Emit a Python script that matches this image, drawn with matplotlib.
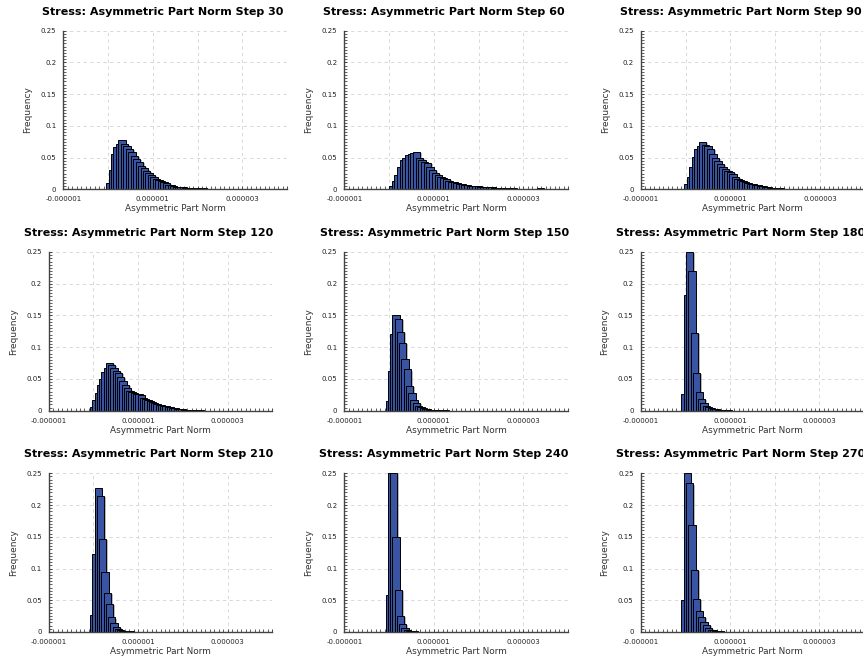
import matplotlib
matplotlib.use("Agg")
import matplotlib.pyplot as plt
import matplotlib.patheffects as pe
from matplotlib.ticker import MultipleLocator, FuncFormatter

# ── Données : histogrammes de la norme de la partie asymétrique ──────────────
STEPS = [30, 60, 90, 120, 150, 180, 210, 240, 270]

# bord gauche du premier bin et pas des bins (unités de 1e-6)
BIN_START = [-0.043, -0.003, -0.035, -0.077, -0.077, -0.092, -0.077, -0.077, -0.092]
BIN_STEP = [0.055, 0.060, 0.056, 0.0506, 0.0506, 0.0536, 0.0506, 0.0506, 0.0536]

FREQ_30 = [0.0105, 0.030, 0.055, 0.067, 0.072, 0.078, 0.071, 0.069, 0.064, 0.059,
           0.053, 0.048, 0.043, 0.037, 0.033, 0.029, 0.026, 0.023, 0.020, 0.017,
           0.015, 0.013, 0.011, 0.0095, 0.0075, 0.0062, 0.0052, 0.0045, 0.004, 0.0036,
           0.0032, 0.0029, 0.0026, 0.0023, 0.0021, 0.0019, 0.0017, 0.0016, 0.0015, 0.0013,
           0.0011, 0.001, 0.0009, 0.0008, 0.0007, 0.0006, 0.0005, 0.0004, 0.0003]
FREQ_60 = [0.005, 0.0136, 0.023, 0.0345, 0.046, 0.050, 0.054, 0.055, 0.0575, 0.059,
           0.049, 0.046, 0.043, 0.041, 0.036, 0.031, 0.026, 0.023, 0.020, 0.018,
           0.016, 0.0136, 0.012, 0.011, 0.010, 0.0092, 0.0082, 0.0075, 0.0068, 0.0060,
           0.0055, 0.0050, 0.0046, 0.0043, 0.0040, 0.0037, 0.0034, 0.0031, 0.0029, 0.0027,
           0.0025, 0.0023, 0.0021, 0.0018, 0.0016, 0.0015, 0.0013, 0.0012, 0.0011, 0.0010,
           0.0009, 0.0009, 0.0008, 0.0009, 0.0012, 0.0015, 0.0010, 0.0007, 0.0005, 0.0004,
           0.0004, 0.0003, 0.0003, 0.0003, 0.0003, 0.0003, 0.0003]
FREQ_90 = [0.009, 0.019, 0.035, 0.051, 0.064, 0.069, 0.0746, 0.070, 0.068, 0.064,
           0.056, 0.050, 0.045, 0.040, 0.036, 0.032, 0.0297, 0.027, 0.0245, 0.020,
           0.017, 0.015, 0.013, 0.0115, 0.010, 0.0089, 0.0078, 0.0068, 0.0062, 0.0053,
           0.0046, 0.0038, 0.0032, 0.0027, 0.0023, 0.0020, 0.0017, 0.0015, 0.0013, 0.0012,
           0.0011, 0.0010, 0.0009, 0.0008, 0.0008, 0.0007, 0.0006, 0.0006, 0.0008, 0.0009,
           0.0004]
FREQ_120 = [0.0063, 0.0168, 0.0273, 0.040, 0.050, 0.061, 0.0667, 0.0756, 0.072, 0.0667,
            0.063, 0.059, 0.053, 0.046, 0.040, 0.035, 0.0315, 0.029, 0.028, 0.027,
            0.0265, 0.025, 0.020, 0.018, 0.0165, 0.015, 0.0138, 0.0125, 0.0112, 0.0095,
            0.0085, 0.0078, 0.0070, 0.0060, 0.0052, 0.0045, 0.0037, 0.0031, 0.0025, 0.0021,
            0.0017, 0.0013, 0.0010, 0.0008, 0.0007, 0.0006, 0.0005, 0.0004, 0.0003, 0.0003,
            0.0002, 0.0002]
FREQ_150 = [0.0158, 0.0625, 0.121, 0.1507, 0.1439, 0.124, 0.1066, 0.081, 0.065, 0.039,
            0.0273, 0.0168, 0.0116, 0.0079, 0.0053, 0.0037, 0.0026, 0.0020, 0.0016, 0.0012,
            0.0010, 0.0008, 0.0007, 0.0006, 0.0005, 0.0004, 0.0003, 0.0003, 0.0002]
FREQ_180 = [0.026, 0.1815, 0.25, 0.2207, 0.1224, 0.060, 0.029, 0.0183, 0.0115, 0.0078,
            0.0052, 0.0037, 0.0027, 0.0020, 0.0015, 0.0011, 0.0008, 0.0006, 0.0004, 0.0003,
            0.0002]
FREQ_210 = [0.0268, 0.1229, 0.2274, 0.2143, 0.147, 0.095, 0.062, 0.044, 0.023, 0.0137,
            0.0074, 0.0047, 0.0032, 0.0022, 0.0016, 0.0012, 0.0009, 0.0006, 0.0004, 0.0003]
FREQ_240 = [0.059, 0.25, 0.25, 0.149, 0.0656, 0.025, 0.012, 0.0058, 0.0032, 0.0020,
            0.0013, 0.0009, 0.0006, 0.0004, 0.0003, 0.0002]
FREQ_270 = [0.0504, 0.25, 0.234, 0.1686, 0.0977, 0.0515, 0.033, 0.024, 0.0163, 0.011,
            0.0058, 0.0037, 0.0026, 0.0018, 0.0013, 0.0009, 0.0007, 0.0005, 0.0004, 0.0003]

FREQS = [FREQ_30, FREQ_60, FREQ_90, FREQ_120, FREQ_150,
         FREQ_180, FREQ_210, FREQ_240, FREQ_270]

X_LABELS = {-1e-6: "-0.000001", 1e-6: "0.000001", 3e-6: "0.000003"}

# ── Mise en page (pixels) ────────────────────────────────────────────────────
W, H, DPI = 863, 660, 100
AX_LEFT = [[63.3, 344.3, 641.0], [48.7, 344.3, 640.5], [48.7, 344.3, 640.5]]
AX_TOP = [30.7, 252.0, 473.3]
AX_W, AX_H = 223.7, 158.7
BAR_W = 0.163e-6

BAR_COLOR = "#3a54a4"
GRID_COLOR = "#d2d2d2"
AXIS_COLOR = "#444444"

fig = plt.figure(figsize=(W / DPI, H / DPI), dpi=DPI)
fig.patch.set_facecolor("white")


def x_fmt(v, pos):
    for k, lab in X_LABELS.items():
        if abs(v - k) < 1e-9:
            return lab
    return ""


for idx, (step, freq) in enumerate(zip(STEPS, FREQS)):
    r, c = divmod(idx, 3)
    left = AX_LEFT[r][c]
    top = AX_TOP[r]
    ax = fig.add_axes([left / W, 1 - (top + AX_H) / H, AX_W / W, AX_H / H])

    edges = [(BIN_START[idx] + i * BIN_STEP[idx]) * 1e-6 for i in range(len(freq))]
    bars = ax.bar(edges, freq, width=BAR_W, align="edge", color=BAR_COLOR,
                  edgecolor="black", linewidth=0.7, zorder=3)
    for b in bars:
        b.set_path_effects([pe.SimplePatchShadow(offset=(1.2, -0.8),
                                                 shadow_rgbFace="#8a8a8a", alpha=0.6),
                            pe.Normal()])

    ax.set_xlim(-1e-6, 4e-6)
    ax.set_ylim(0, 0.25)

    ax.xaxis.set_major_locator(MultipleLocator(1e-6))
    ax.xaxis.set_minor_locator(MultipleLocator(1e-7))
    ax.xaxis.set_major_formatter(FuncFormatter(x_fmt))
    ax.yaxis.set_major_locator(MultipleLocator(0.05))
    ax.yaxis.set_minor_locator(MultipleLocator(0.005))
    ax.yaxis.set_major_formatter(FuncFormatter(lambda v, p: f"{v:g}"))

    ax.grid(True, which="major", color=GRID_COLOR, linestyle=(0, (4, 4)),
            linewidth=0.6, zorder=0)
    ax.set_axisbelow(True)

    for side in ("top", "right"):
        ax.spines[side].set_visible(False)
    for side in ("left", "bottom"):
        ax.spines[side].set_color(AXIS_COLOR)
        ax.spines[side].set_linewidth(1.0)
        ax.spines[side].set_zorder(4)

    ax.tick_params(which="both", direction="in", colors=AXIS_COLOR,
                   labelcolor="#222222", labelsize=5)
    ax.tick_params(which="major", length=2.5, width=0.7)
    ax.tick_params(which="minor", length=2.0, width=0.6)
    ax.tick_params(axis="x", pad=5)
    ax.tick_params(axis="y", pad=5)

    ax.set_xlabel("Asymmetric Part Norm", fontsize=6.4, color="#333333", labelpad=1.5)
    ax.set_ylabel("Frequency", fontsize=6.5, color="#333333", labelpad=6)

    fig.text((left + AX_W / 2 - 12) / W, 1 - (top - 19) / H,
             f"Stress: Asymmetric Part Norm Step {step}",
             ha="center", va="center", fontsize=8, fontweight="bold")

fig.savefig("out.png", dpi=DPI)
